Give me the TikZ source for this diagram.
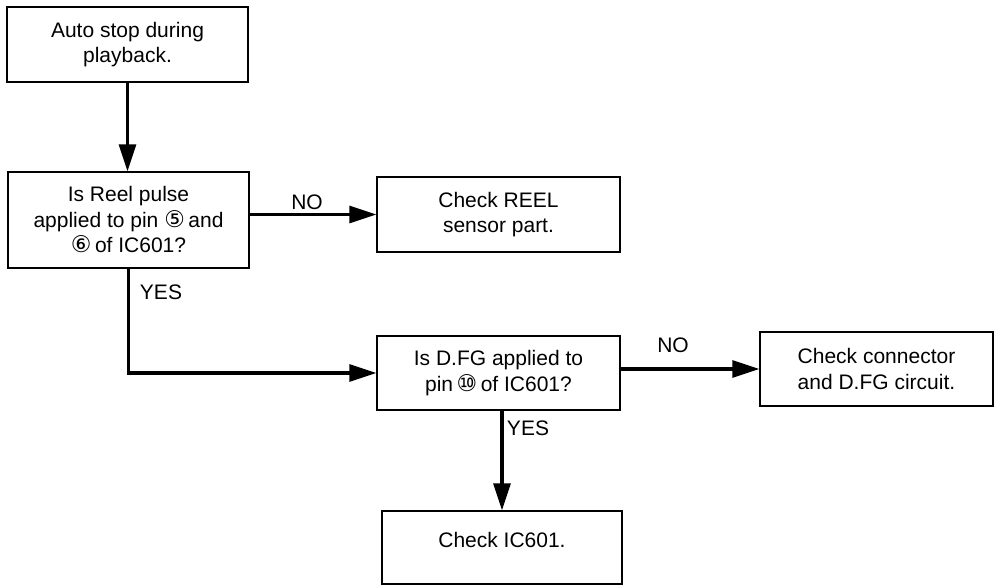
\documentclass[tikz,border=0pt]{standalone}
\usepackage{fontspec}
\setmainfont{Liberation Sans}
\newfontfamily\circfont{DejaVu Sans}
\usetikzlibrary{arrows.meta}
\newcommand{\cnum}[1]{{\circfont\fontsize{23}{23}\selectfont #1}}
\tikzset{
  box/.style={draw,line width=1.4pt,align=center,inner sep=0pt,
    font=\fontsize{21}{25.5}\selectfont},
  lbl/.style={font=\fontsize{21}{25.5}\selectfont},
  flow/.style={line width=3.2pt,-{Triangle[length=27pt,width=17pt]}}
}
\begin{document}
\begin{tikzpicture}[x=1pt,y=-1pt]
	\useasboundingbox (0,0) rectangle (994,585);
	\node[box,minimum width=241pt,minimum height=75pt] (start) at (127.5,44.5) {Auto stop during\\playback.};
	\node[box,minimum width=241pt,minimum height=96pt] (reel) at (128.5,220) {Is Reel pulse\\applied to pin \cnum{⑤}\,and\\\cnum{⑥}\,of IC601?};
	\node[box,minimum width=243pt,minimum height=75pt] (reelchk) at (498.5,214.5) {Check REEL\\sensor part.};
	\node[box,minimum width=243pt,minimum height=74pt] (dfg) at (498.5,373) {Is D.FG applied to\\pin\,\cnum{⑩}\,of IC601?};
	\node[box,minimum width=233pt,minimum height=74pt] (dfgchk) at (876.5,369) {Check connector\\and D.FG circuit.};
	\node[box,minimum width=240pt,minimum height=73pt,text depth=16pt] (ic) at (502,547.5) {Check IC601.};
	\node[lbl] (no1) at (307,202) {NO};
	\node[lbl] (yes1) at (161,292) {YES};
	\node[lbl] (no2) at (673,345) {NO};
	\node[lbl] (yes2) at (528,428) {YES};
	\draw[flow] (start.south) -- (start.south |- reel.north);
	\draw[flow] (reel.east |- reelchk.west) -- (reelchk.west);
	\draw[flow] (reel.south) |- (dfg.west);
	\draw[flow] (dfg.east |- dfgchk.west) -- (dfgchk.west);
	\draw[flow] (ic.north |- dfg.south) -- (ic.north);
\end{tikzpicture}
\end{document}
